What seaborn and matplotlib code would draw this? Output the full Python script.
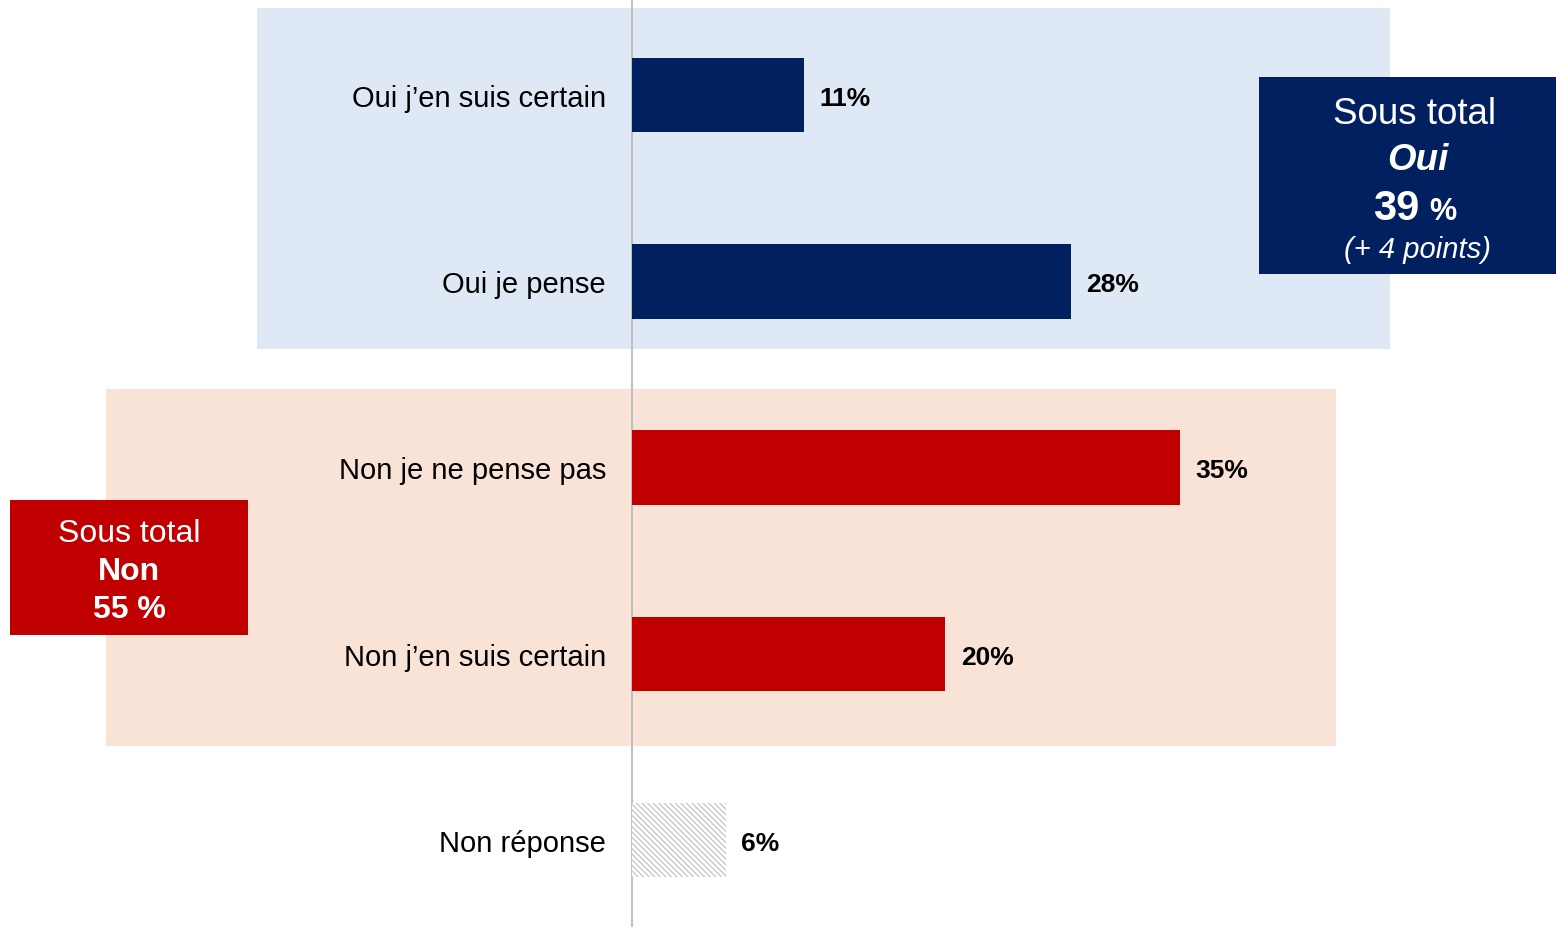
import matplotlib
matplotlib.use("Agg")
import matplotlib.pyplot as plt
from matplotlib.patches import Rectangle
import seaborn as sns
import pandas as pd

categories = ["Oui j’en suis certain", "Oui je pense", "Non je ne pense pas",
              "Non j’en suis certain", "Non réponse"]
values = [11, 28, 35, 20, 6]
bar_colors = ["#002060", "#002060", "#C00000", "#C00000", "#FFFFFF"]
subtotal_oui = 39
subtotal_non = 55
evolution_oui = "(+ 4 points)"

sns.set_theme(style="white")
plt.rcParams["font.family"] = ["Liberation Sans", "DejaVu Sans"]
plt.rcParams["hatch.linewidth"] = 0.8

W, H = 1556, 928
fig = plt.figure(figsize=(W / 100, H / 100), dpi=100)
ax = fig.add_axes([0, 0, 1, 1])


def fx(px):
    return px / W


def fy(py):
    return 1 - py / H


def panel(x0, y0, x1, y1, color, z):
    ax.add_patch(Rectangle((fx(x0), fy(y1)), fx(x1) - fx(x0), fy(y0) - fy(y1),
                           transform=fig.transFigure, color=color, zorder=z,
                           lw=0, clip_on=False))


df = pd.DataFrame({"cat": categories, "val": values})
sns.barplot(data=df, y="cat", x="val", hue="cat", palette=bar_colors,
            orient="h", width=0.4, legend=False, ax=ax, saturation=1)

# horizontal scale: 0 % sits at x=632 px, ~15.67 px per percentage point
zero_px, px_per_pt = 632, 15.67
ax.set_xlim(-zero_px / px_per_pt, (W - zero_px) / px_per_pt)
row_px, first_px = 186.25, 96
ax.set_ylim((H - first_px) / row_px, -first_px / row_px)

for bar in list(ax.patches):
    bar.set_linewidth(0)
    bar.set_zorder(2)
# non-response bar: grey diagonal hatch on white
last = ax.containers[-1].patches[0]
last.set_hatch("\\\\\\\\\\\\")
last.set_edgecolor("#BDBDBD")
last.set_facecolor("white")

# group panels behind the bars
panel(257, 9, 1390, 350, "#DEE9F5", 0)
panel(106, 390, 1336, 747, "#F9E3D7", 0)

for cont, v in zip(ax.containers, values):
    for ann in ax.bar_label(cont, labels=[f"{v}%"], padding=11, fontsize=19,
                            fontweight="bold", color="black"):
        ann.xyann = (11, -2)

for i, cat in enumerate(categories):
    ax.text(-26 / px_per_pt, i + 0.016, cat, ha="right", va="center", fontsize=21,
            color="black", zorder=3)

ax.axvline(0, color="#BFBFBF", lw=1.5, zorder=1)

ax.set_xticks([])
ax.set_yticks([])
ax.set_xlabel("")
ax.set_ylabel("")
for s in ax.spines.values():
    s.set_visible(False)

# subtotal boxes
panel(1259, 78, 1556, 275, "#002060", 5)
panel(10, 501, 248, 636, "#C00000", 5)

fig.text(fx(1415), fy(115), "Sous total", ha="center", va="center", fontsize=26.5,
         color="white", zorder=6)
fig.text(fx(1418), fy(160), "Oui", ha="center", va="center", fontsize=26.5,
         color="white", fontweight="bold", fontstyle="italic", zorder=6)
fig.text(fx(1419), fy(209), f"{subtotal_oui}", ha="right", va="center", fontsize=30,
         color="white", fontweight="bold", zorder=6)
fig.text(fx(1429), fy(212), "%", ha="left", va="center", fontsize=22,
         color="white", fontweight="bold", zorder=6)
fig.text(fx(1417), fy(250), evolution_oui, ha="center", va="center", fontsize=21,
         color="white", fontstyle="italic", zorder=6)

fig.text(fx(129), fy(534), "Sous total", ha="center", va="center", fontsize=23,
         color="white", zorder=6)
fig.text(fx(129), fy(572), "Non", ha="center", va="center", fontsize=23,
         color="white", fontweight="bold", zorder=6)
fig.text(fx(129), fy(610), f"{subtotal_non} %", ha="center", va="center", fontsize=23,
         color="white", fontweight="bold", zorder=6)

fig.savefig("out.png", dpi=100)
